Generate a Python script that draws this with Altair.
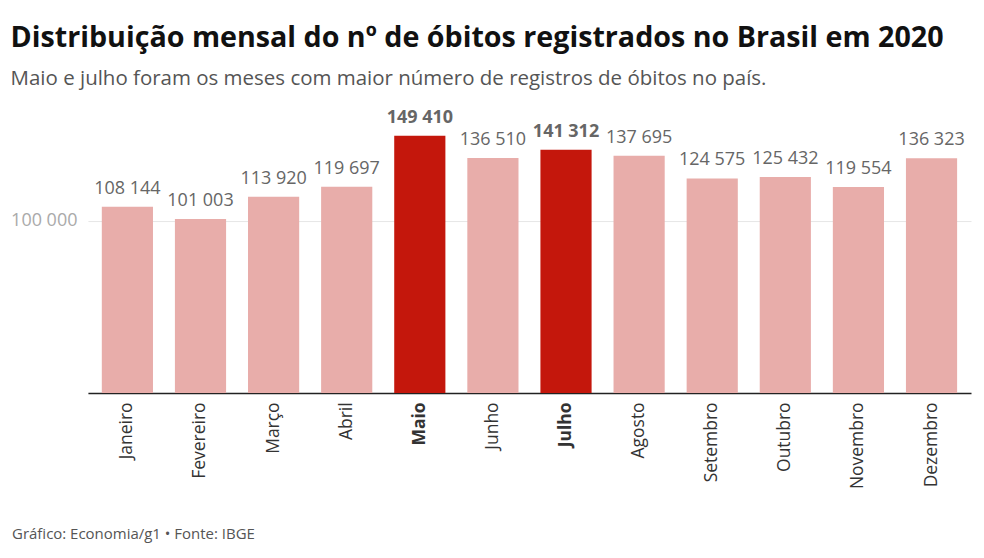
import altair as alt
import pandas as pd

months = ["Janeiro", "Fevereiro", "Março", "Abril", "Maio", "Junho",
          "Julho", "Agosto", "Setembro", "Outubro", "Novembro", "Dezembro"]
deaths = [108144, 101003, 113920, 119697, 149410, 136510,
          141312, 137695, 124575, 125432, 119554, 136323]
highlight = ["Maio", "Julho"]
y_ticks = [100000]

title_text = "Distribuição mensal do nº de óbitos registrados no Brasil em 2020"
subtitle_text = "Maio e julho foram os meses com maior número de registros de óbitos no país."
footer_text = ["Gráfico: Economia/g1 • Fonte: IBGE"]

LIGHT = "#e8adaa"
DARK = "#c4170c"

df = pd.DataFrame({"mes": months, "obitos": deaths})
df["destaque"] = df["mes"].isin(highlight)
df["rotulo"] = df["obitos"].map(lambda v: f"{v:,}".replace(",", " "))

hl_test = " || ".join([f"datum.value === '{m}'" for m in highlight])

x_enc = alt.X(
    "mes:N", sort=months,
    scale=alt.Scale(paddingInner=0.3, paddingOuter=0.19),
    axis=alt.Axis(
        title=None, labelAngle=-90, ticks=False, domain=True,
        domainColor="#222", domainWidth=1.5,
        labelFont="Open Sans", labelFontSize=17.5, labelColor="#333",
        labelPadding=9,
        labelFontWeight={"condition": {"test": hl_test, "value": "bold"}, "value": "normal"},
    ),
)
y_enc = alt.Y(
    "obitos:Q",
    scale=alt.Scale(domain=[0, 162500], nice=False),
    axis=alt.Axis(
        title=None, values=y_ticks, domain=False, ticks=False,
        labelExpr="replace(format(datum.value, ','), ',', ' ')",
        labelFont="Open Sans", labelFontSize=18, labelColor="#aaaaaa",
        labelPadding=11, gridColor="#e6e6e6", gridWidth=1,
    ),
)

base = alt.Chart(df)

bars = base.mark_bar().encode(
    x=x_enc, y=y_enc,
    color=alt.condition(alt.datum.destaque, alt.value(DARK), alt.value(LIGHT)),
)

labels_normal = base.transform_filter("!datum.destaque").mark_text(
    baseline="alphabetic", dy=-13, font="Open Sans", fontSize=18, color="#666666"
).encode(x=alt.X("mes:N", sort=months), y="obitos:Q", text="rotulo:N")

labels_bold = base.transform_filter("datum.destaque").mark_text(
    baseline="alphabetic", dy=-13, font="Open Sans", fontSize=18,
    fontWeight="bold", color="#666666"
).encode(x=alt.X("mes:N", sort=months), y="obitos:Q", text="rotulo:N")

footer = alt.Chart(pd.DataFrame({"t": footer_text})).mark_text(
    align="left", baseline="middle", font="Open Sans", fontSize=15, color="#555555"
).encode(x=alt.value(-76), y=alt.value(421), text="t:N")

chart = alt.layer(bars, labels_normal, labels_bold, footer).properties(
    width=884, height=280,
    padding={"left": 2, "top": 15, "right": 5, "bottom": 5},
    title=alt.TitleParams(
        text=title_text, subtitle=subtitle_text,
        anchor="start", frame="bounds", offset=19,
        font="Open Sans", fontSize=28.7, fontWeight="bold", color="#111111",
        subtitleFont="Open Sans", subtitleFontSize=20.5, subtitleColor="#555555",
        subtitlePadding=17,
    ),
).configure_view(stroke=None).configure_axis(grid=True).configure_axisX(grid=False)

chart.save("out.html", embed_options={"renderer": "svg", "actions": False})
